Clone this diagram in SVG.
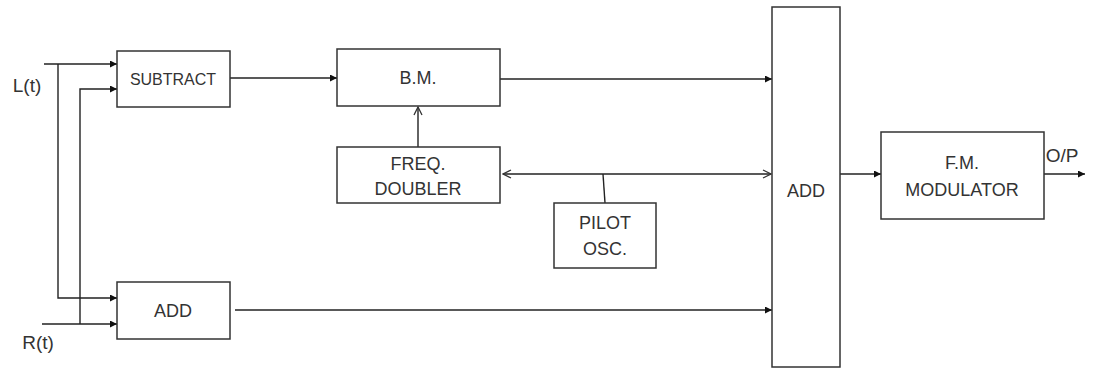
<svg xmlns="http://www.w3.org/2000/svg" width="1093" height="368" viewBox="0 0 1093 368">
<style>
.box{fill:#fff;stroke:#333;stroke-width:1.5}
.ln{fill:none;stroke:#222;stroke-width:1.4}
.t{font-family:"Liberation Sans",Arial,sans-serif;font-size:18px;fill:#333;text-anchor:middle}
</style>
<defs>
<marker id="fa" viewBox="0 0 10 10" refX="10" refY="5" markerWidth="7" markerHeight="7" markerUnits="userSpaceOnUse" orient="auto"><path d="M0,0 L10,5 L0,10 z" fill="#111"/></marker>
<marker id="oa" viewBox="0 0 10 10" refX="9" refY="5" markerWidth="10" markerHeight="10" markerUnits="userSpaceOnUse" orient="auto-start-reverse"><path d="M1,1 L9,5 L1,9" fill="none" stroke="#333" stroke-width="1.3"/></marker>
</defs>
<g id="connectors">
<path class="ln" d="M44,64 H117" marker-end="url(#fa)"/>
<path class="ln" d="M58,64 V298 H117" marker-end="url(#fa)"/>
<path class="ln" d="M80,324 V89 H117" marker-end="url(#fa)"/>
<path class="ln" d="M42,324 H117" marker-end="url(#fa)"/>
<path class="ln" d="M230,78 H337" marker-end="url(#fa)"/>
<path class="ln" d="M500,79 H772" marker-end="url(#fa)"/>
<path class="ln" d="M235,310 H772" marker-end="url(#fa)"/>
<path class="ln" d="M418,147 V107" marker-end="url(#oa)"/>
<path class="ln" d="M503,174 H771" marker-start="url(#oa)" marker-end="url(#oa)"/>
<path class="ln" d="M603,174 L605,203"/>
<path class="ln" d="M840,174 H881" marker-end="url(#fa)"/>
<path class="ln" d="M1044,174 H1085" marker-end="url(#fa)"/>
</g>
<g id="labels">
<text class="t" x="27" y="92" style="font-size:19px">L(t)</text>
<text class="t" x="38" y="349" style="font-size:19px">R(t)</text>
<text class="t" x="1062" y="162" style="font-size:19px">O/P</text>
</g>
<g id="subtract"><rect class="box" x="117" y="51" width="113" height="56"/><text class="t" x="173" y="85" style="font-size:16px">SUBTRACT</text></g>
<g id="add1"><rect class="box" x="117" y="282" width="113" height="57"/><text class="t" x="173" y="317">ADD</text></g>
<g id="bm"><rect class="box" x="337" y="49" width="163" height="57"/><text class="t" x="418" y="84">B.M.</text></g>
<g id="freq"><rect class="box" x="337" y="147" width="163" height="56"/><text class="t" x="418" y="170">FREQ.</text><text class="t" x="418" y="195">DOUBLER</text></g>
<g id="pilot"><rect class="box" x="554" y="203" width="102" height="65"/><text class="t" x="605" y="229">PILOT</text><text class="t" x="605" y="255">OSC.</text></g>
<g id="add2"><rect class="box" x="772" y="7" width="68" height="360"/><text class="t" x="806" y="197">ADD</text></g>
<g id="fm"><rect class="box" x="881" y="132" width="163" height="87"/><text class="t" x="962" y="169">F.M.</text><text class="t" x="962" y="196">MODULATOR</text></g>
</svg>
